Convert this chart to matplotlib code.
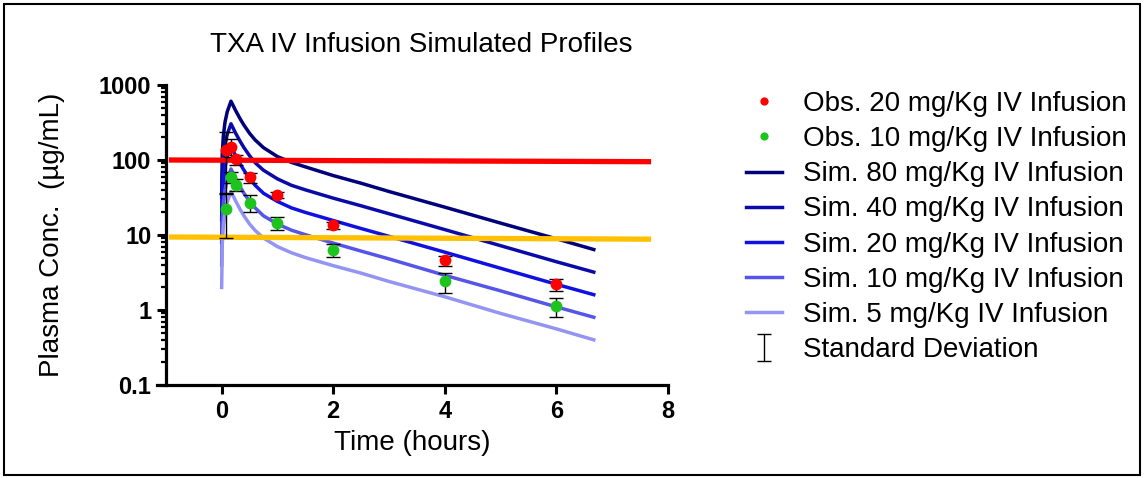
import matplotlib
matplotlib.use('Agg')
import matplotlib.pyplot as plt
from matplotlib.patches import Rectangle

# observed TXA data (mean, SD)
obs_t = [0.083, 0.167, 0.25, 0.5, 1, 2, 4, 6]
obs20 = [136, 150, 102, 59, 34, 13.5, 4.6, 2.2]
obs20_sd = [100, 40, 15, 9, 3, 1.5, 0.7, 0.4]
obs10 = [22, 59, 47, 27, 14.5, 6.4, 2.4, 1.13]
obs10_sd = [13, 10, 8, 7, 2.7, 1.3, 0.7, 0.32]

# simulated profiles
sim_t = [0, 0.01, 0.03, 0.06, 0.1, 0.167, 0.25, 0.33, 0.4, 0.5, 0.6, 0.75,
         1, 1.25, 1.5, 2, 2.5, 3, 4, 5, 6, 6.67]
sim80 = [32, 120, 208, 320, 440, 608, 457, 355, 291, 227, 185, 146,
         111, 93, 81, 62, 49, 38, 23.5, 14.4, 8.9, 6.4]
sim40 = [16, 60, 104, 160, 220, 304, 228, 178, 146, 114, 92, 73,
         56, 46, 40, 31, 24.5, 19.2, 11.8, 7.2, 4.4, 3.2]
sim20 = [8, 30, 52, 80, 110, 152, 114, 89, 73, 57, 46, 36,
         28, 23, 20, 15.6, 12.2, 9.6, 5.9, 3.6, 2.2, 1.6]
sim10 = [4, 15, 26, 40, 55, 76, 57, 44, 36, 28, 23, 18,
         14, 11.6, 10.1, 7.8, 6.1, 4.8, 2.9, 1.8, 1.1, 0.8]
sim5 = [2, 7.5, 13, 20, 27.5, 38, 28.5, 22, 18, 14, 11.5, 9.1,
        7, 5.8, 5, 3.9, 3.1, 2.4, 1.5, 0.9, 0.56, 0.4]

# threshold lines
thr_t = [-0.9, 7.65]
thr_red = [100, 95]
thr_orange = [9.4, 8.8]

sims = [
    (sim80, '#00007a', 'Sim. 80 mg/Kg IV Infusion'),
    (sim40, '#0a0aa8', 'Sim. 40 mg/Kg IV Infusion'),
    (sim20, '#1010e0', 'Sim. 20 mg/Kg IV Infusion'),
    (sim10, '#5555e8', 'Sim. 10 mg/Kg IV Infusion'),
    (sim5, '#9494f2', 'Sim. 5 mg/Kg IV Infusion'),
]

plt.rcParams['font.family'] = ['Liberation Sans', 'DejaVu Sans']

fig = plt.figure(figsize=(11.44, 4.78), dpi=100)
ax = fig.add_axes([157.5 / 1144, 1 - 385 / 478, (668 - 157.5) / 1144, 300 / 478])

sim_handles = []
for vals, col, lab in sims:
    h, = ax.plot(sim_t, vals, color=col, lw=2.5, label=lab, zorder=2)
    sim_handles.append(h)

ax.plot(thr_t, thr_red, color='#ff0000', lw=3.8, zorder=3)
ax.plot(thr_t, thr_orange, color='#ffc000', lw=3.8, zorder=3)

sd = ax.errorbar(obs_t, obs20, yerr=obs20_sd, fmt='none', ecolor='black',
                 elinewidth=1, capsize=5, capthick=1, zorder=4,
                 label='Standard Deviation')
ax.errorbar(obs_t, obs10, yerr=obs10_sd, fmt='none', ecolor='black',
            elinewidth=1, capsize=5, capthick=1, zorder=4)
h20, = ax.plot(obs_t, obs20, 'o', color='#ff0000', ms=8.5, mec='none',
               zorder=5, label='Obs. 20 mg/Kg IV Infusion')
h10, = ax.plot(obs_t, obs10, 'o', color='#1ec41e', ms=8.5, mec='none',
               zorder=5, label='Obs. 10 mg/Kg IV Infusion')

ax.set_yscale('log')
ax.set_ylim(0.1, 1000)
ax.set_xlim(-1.15, 8)
ax.set_xticks([0, 2, 4, 6, 8])
ax.set_yticks([0.1, 1, 10, 100, 1000])
ax.set_yticklabels(['0.1', '1', '10', '100', '1000'])

for s in ['top', 'right']:
    ax.spines[s].set_visible(False)
ax.spines['left'].set_position(('data', -1))
ax.spines['left'].set_linewidth(2.3)
ax.spines['bottom'].set_linewidth(2.3)
ax.tick_params(axis='both', which='major', length=6.5, width=2.2,
               labelsize=17, pad=4)
ax.tick_params(axis='y', which='minor', length=3.5, width=1.6)
for lbl in ax.get_xticklabels() + ax.get_yticklabels():
    lbl.set_fontweight('bold')

ax.set_xlabel('Time (hours)', fontsize=20, labelpad=5)
ax.set_ylabel('Plasma Conc.  (µg/mL)', fontsize=20, labelpad=24)
ax.set_title('TXA IV Infusion Simulated Profiles', fontsize=20, pad=24,
             x=0.516)

handles = [h20, h10] + sim_handles + [sd]
labels = [h.get_label() for h in handles]
fig.legend(handles, labels, loc='upper left',
           bbox_to_anchor=(746 / 1144, 1 - 91 / 478),
           frameon=False, fontsize=20, handlelength=1.3,
           handletextpad=0.75, labelspacing=0.33, markerscale=0.7,
           borderpad=0, borderaxespad=0)

fig.add_artist(Rectangle((4 / 1144, 3 / 478), 1136 / 1144, 471 / 478,
                         transform=fig.transFigure, fill=False,
                         edgecolor='black', lw=1.5))

fig.savefig('out.png', dpi=100)
